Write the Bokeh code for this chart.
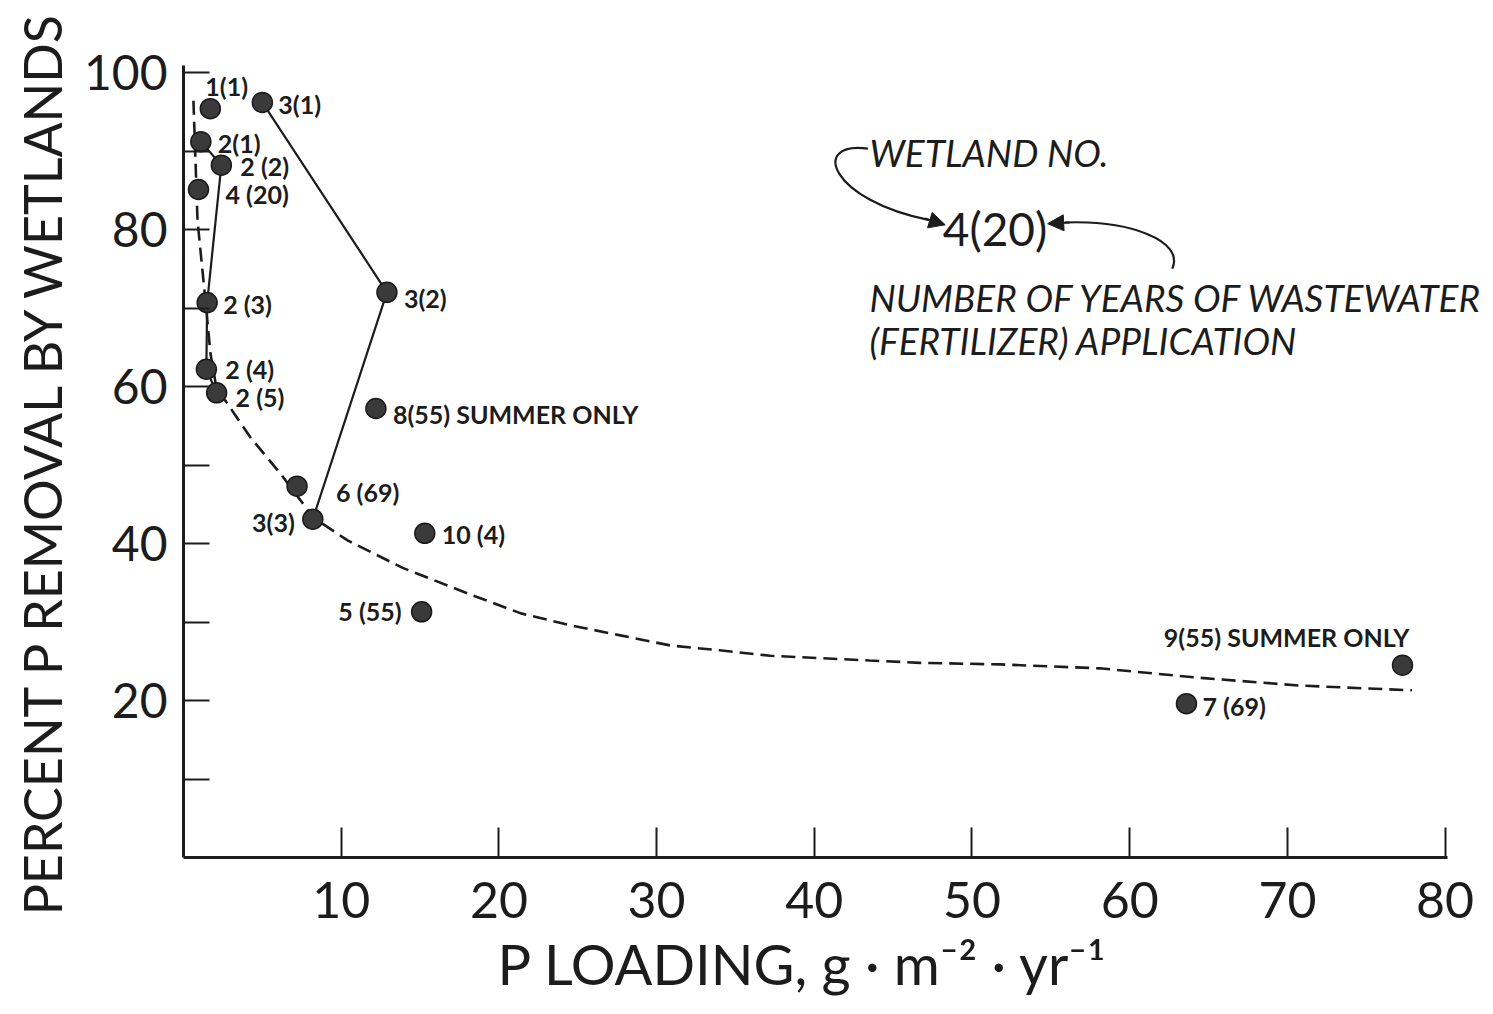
from bokeh.plotting import figure
from bokeh.models import FixedTicker, Range1d, ColumnDataSource, Arrow, NormalHead, Label, Title
from bokeh.core.properties import value
from bokeh.embed import file_html
from bokeh.resources import INLINE

# ---- data ----
point_labels = ["1(1)", "3(1)", "2(1)", "2 (2)", "4 (20)", "3(2)", "2 (3)", "2 (4)", "2 (5)",
                "8(55) SUMMER ONLY", "6 (69)", "3(3)", "10 (4)", "5 (55)", "9(55) SUMMER ONLY", "7 (69)"]
wetland = [1, 3, 2, 2, 4, 3, 2, 2, 2, 8, 6, 3, 10, 5, 9, 7]
years = [1, 1, 1, 2, 20, 2, 3, 4, 5, 55, 69, 3, 4, 55, 55, 69]
p_loading = [1.7, 5.0, 1.1, 2.4, 0.95, 12.9, 1.5, 1.45, 2.1, 12.2, 7.2, 8.2, 15.3, 15.1, 77.3, 63.6]
p_removal = [95.4, 96.2, 91.2, 88.2, 85.1, 72.0, 70.7, 62.2, 59.2, 57.2, 47.3, 43.1, 41.3, 31.3, 24.5, 19.6]

# dashed trend curve
curve_x = [0.63, 0.76, 0.89, 1.39, 1.71, 2.15, 2.66, 4.25, 6.15, 8.24, 10.4, 13.9, 18.2, 21.4,
           24.5, 27.7, 30.9, 34.0, 37.2, 40.4, 43.5, 46.7, 51.8, 58.1, 64.4, 70.8, 77.9]
curve_y = [96.4, 88.8, 81.1, 71.0, 64.2, 59.1, 58.2, 53.5, 48.9, 43.3, 40.4, 36.9, 33.5, 31.1,
           29.6, 28.3, 27.0, 26.4, 25.7, 25.4, 25.1, 24.8, 24.6, 24.1, 22.9, 21.9, 21.3]

x_ticks = [10, 20, 30, 40, 50, 60, 70, 80]
y_ticks = [20, 40, 60, 80, 100]
y_minor_ticks = [10, 30, 50, 70, 90]

x_title = "P LOADING, g · m⁻² · yr⁻¹"
y_title = "PERCENT P REMOVAL BY WETLANDS"

# ---- label placement (styling) ----
label_dx = [-5, 16, 17, 19, 27, 17, 16, 19, 19, 17, 39, -18, 17, -20, 7, 16]
label_dy = [-23, 2, 1, 1, 4, 6, 1, 0, 4, 5, 6, 3, 1, -1, -28, 2]
label_align = ["left", "left", "left", "left", "left", "left", "left", "left", "left",
               "left", "left", "right", "left", "right", "right", "left"]

INK = "#1c1c1c"
FONT = "Lato"

p = figure(width=1493, height=1012, x_range=Range1d(0, 82.5), y_range=Range1d(0, 100.9),
           output_backend="svg", toolbar_location=None,
           min_border_left=183, min_border_right=9, min_border_top=65, min_border_bottom=155)
p.grid.visible = False
p.outline_line_color = None
p.background_fill_color = "white"

# axes
p.xaxis.ticker = FixedTicker(ticks=x_ticks)
p.xaxis.bounds = (0, 80.13)
p.xaxis.major_tick_in = 30
p.xaxis.major_tick_out = 0
p.xaxis.minor_tick_in = 0
p.xaxis.minor_tick_out = 0
p.xaxis.major_label_standoff = 24
p.xaxis.major_label_text_font_size = "50px"

p.yaxis.ticker = FixedTicker(ticks=y_ticks, minor_ticks=y_minor_ticks)
p.yaxis.major_tick_in = 26
p.yaxis.major_tick_out = 0
p.yaxis.minor_tick_in = 26
p.yaxis.minor_tick_out = 0
p.yaxis.major_label_standoff = 16
p.yaxis.major_label_text_font_size = "48px"
p.yaxis.axis_label = y_title
p.yaxis.axis_label_standoff = 8
p.yaxis.axis_label_text_font_size = "52px"

for ax in (p.xaxis, p.yaxis):
    ax.axis_line_width = 3
    ax.axis_line_color = INK
    ax.major_tick_line_width = 2
    ax.major_tick_line_color = INK
    ax.minor_tick_line_width = 2
    ax.minor_tick_line_color = INK
    ax.major_label_text_font = FONT
    ax.major_label_text_color = INK
    ax.axis_label_text_font = FONT
    ax.axis_label_text_font_style = "normal"
    ax.axis_label_text_color = INK

# x-axis title, below the tick labels
p.add_layout(Title(text=x_title, align="left", offset=314, standoff=14, text_font=FONT,
                   text_font_size="56px", text_font_style="normal", text_color=INK), "below")

# dashed curve
p.line(curve_x, curve_y, line_dash="14 7", line_width=2.6, line_color=INK)

# wetland connection lines (wetlands 2 and 3 over the years)
for w in (2, 3):
    idx = sorted([i for i, v in enumerate(wetland) if v == w], key=lambda i: years[i])
    p.line([p_loading[i] for i in idx], [p_removal[i] for i in idx], line_width=2.2, line_color=INK)

src = ColumnDataSource(dict(x=p_loading, y=p_removal))
p.scatter("x", "y", source=src, size=20, fill_color="#3a3a3a", line_color="#1a1a1a", line_width=1.5)

for al in ("left", "right"):
    idx = [i for i, a in enumerate(label_align) if a == al]
    s = ColumnDataSource(dict(x=[p_loading[i] for i in idx], y=[p_removal[i] for i in idx],
                              label=[point_labels[i] for i in idx],
                              dx=[label_dx[i] for i in idx], dy=[label_dy[i] for i in idx]))
    p.text("x", "y", text="label", source=s, x_offset="dx", y_offset="dy",
           text_align=al, text_baseline="middle", text_font=value(FONT), text_font_style="bold",
           text_font_size="25px", text_color=INK)

# explanatory annotation
def note(x, y, text, size, style="italic", align="left"):
    p.add_layout(Label(x=x, y=y, text=text, text_font=FONT, text_font_style=style,
                       text_font_size=size, text_align=align, text_baseline="middle",
                       text_color=INK))

note(43.5, 89.8, "WETLAND NO.", "37px")
note(51.46, 80.1, "4(20)", "46px", style="normal", align="center")
note(43.5, 71.3, "NUMBER OF YEARS OF WASTEWATER", "37px")
note(43.5, 65.9, "(FERTILIZER) APPLICATION", "37px")

p.bezier(x0=[43.4], y0=[90.3], x1=[47.3], y1=[81.2], cx0=[39.7], cy0=[91.3], cx1=[41.0], cy1=[83.7],
         line_width=2.2, line_color=INK)
p.bezier(x0=[62.7], y0=[75.0], x1=[55.9], y1=[80.9], cx0=[63.5], cy0=[78.6], cx1=[60.0], cy1=[81.2],
         line_width=2.2, line_color=INK)
p.add_layout(Arrow(end=NormalHead(size=16, fill_color=INK, line_color=INK), line_color=INK,
                   line_width=2.2, x_start=47.0, y_start=81.4, x_end=48.3, y_end=80.6))
p.add_layout(Arrow(end=NormalHead(size=16, fill_color=INK, line_color=INK), line_color=INK,
                   line_width=2.2, x_start=56.2, y_start=80.9, x_end=54.8, y_end=80.75))

open("out.html", "w").write(file_html(p, INLINE))
